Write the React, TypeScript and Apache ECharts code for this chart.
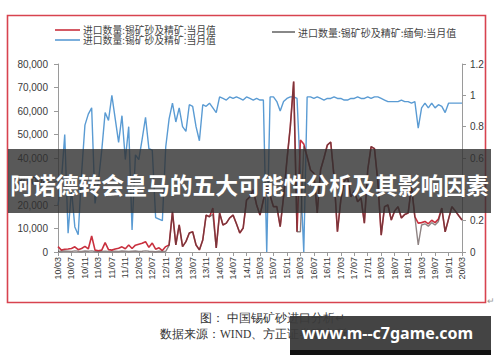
import React, { useEffect, useRef } from 'react';
import * as echarts from 'echarts';

// Monthly categories 10/03 .. 20/03
const months: string[] = [];
for (let y = 10; y <= 20; y++) {
  for (let m = 1; m <= 12; m++) {
    if ((y === 10 && m < 3) || (y === 20 && m > 3)) continue;
    months.push(`${y}/${String(m).padStart(2, '0')}`);
  }
}

const legendTotal = '进口数量:锡矿砂及精矿:当月值';
const legendRatio = '进口数量:锡矿砂及精矿:当月值';
const legendMyanmar = '进口数量:锡矿砂及精矿:缅甸:当月值';

// Red: total imports (left axis)
const totalImports = [
  2300, 800, 1200, 1300, 1500, 2200, 1000, 1500, 2400, 1300,
  6800, 800, 500, 800, 4000, 1000, 800, 1300, 1600, 2200,
  1400, 3000, 1500, 2900, 3300, 3700, 4400, 2000, 3800, 1200,
  1800, 600, 2300, 3000,
  17100, 3000, 11500, 2300, 4400, 8100, 8600, 3000, 900, 5100,
  15700, 15000, 18700, 1700, 16600, 11500, 12300, 14500, 15700,
  12000, 8100, 10200, 22100, 23500, 26400, 20000, 15700, 22100, 28000,
  24000, 19300, 19300, 10800, 23500, 39100, 53300,
  72500, 8600, 47700, 46000, 40600, 34900, 33500, 16600, 35000, 40000,
  45500, 46800, 32000, 8600, 22100, 30000, 32000, 23500, 26000, 21400,
  23000, 12300, 35000, 44800, 44000, 30000, 7200, 19300, 20000, 13600,
  17500, 19300, 14500, 16000, 16600, 27800, 15000,
  12300, 12500, 13000, 12000, 13500, 12500, 14000, 18700, 8600, 14000,
  19300, 17500, 15500, 13600,
];

// Dark: imports from Myanmar (left axis)
const myanmarImports = [
  300, 200, 400, 300, 200, 500, 300, 200, 400, 300,
  500, 200, 100, 200, 300, 200, 100, 300, 200, 400,
  300, 200, 300, 400, 200, 300, 500, 300, 200, 100,
  300, 200, 300, 2800,
  17100, 3000, 11500, 2300, 4400, 8100, 8600, 3000, 900, 5100,
  15700, 15000, 16000, 1700, 16600, 11500, 12300, 14500, 15700,
  12000, 8100, 10200, 22100, 23500, 26400, 20000, 15700, 22100, 28000,
  24000, 19300, 19300, 10800, 23500, 39100, 53300,
  72500, 8600, 8600, 45000, 40600, 34900, 33500, 16600, 35000, 40000,
  45500, 46800, 32000, 8600, 22100, 30000, 32000, 23500, 26000, 21400,
  23000, 12300, 35000, 44800, 44000, 30000, 7200, 19300, 20000, 13600,
  17500, 19300, 14500, 16000, 16600, 27800, 15000,
  3000, 11500, 12000, 11000, 12500, 11500, 13000, 18700, 8600, 14000,
  19300, 17500, 15500, 13600,
];

// Blue: share (right axis)
const shareRatio = [
  0.30, 0.45, 0.75, 0.12, 0.40, 0.16, 0.11, 0.50, 0.81, 0.88,
  0.92, 0.31, 0.45, 0.65, 0.89, 0.84, 1.00, 0.85, 0.70, 0.87,
  0.59, 0.80, 0.14, 0.62, 0.59, 0.72, 0.86, 0.66, 0.65, 0.22,
  0.21, 0.20, 0.67, 0.85, 0.95, 0.83, 0.92, 0.80, 0.77, 0.94,
  0.93, 0.80, 0.71, 0.94, 0.93, 0.95, 0.92, 0.89, 0.99,
  0.98, 0.97, 0.99, 0.98, 0.99, 0.98, 0.97, 0.99, 0.98, 0.97, 0.98, 0.97, 0.97,
  0,
  0.99, 0.99, 0.96, 0.90, 0.96, 0.98, 0.99, 0.99, 0.98, 0.50, 0, 0.99,
  0.99, 0.98, 0.99, 0.98, 0.97, 0.98, 0.98, 0.99, 0.98, 0.98,
  0.97, 0.97, 0.98, 0.98, 0.99, 0.98, 0.98, 0.99, 0.98, 0.99,
  0.99, 0.98, 0.97, 0.96, 0.96, 0.96, 0.96, 0.97, 0.96, 0.96,
  0.95, 0.96,
  0.79, 0.92, 0.95, 0.92, 0.95, 0.92, 0.94, 0.93, 0.89, 0.95,
  0.95, 0.95, 0.95, 0.95,
];

const bannerTitle = '阿诺德转会皇马的五大可能性分析及其影响因素';
const captionTitle = '图： 中国锡矿砂进口分析↵';
const captionSource = '数据来源：WIND、方正证券研究所';
const watermark = 'www.m--c7game.com';

const RED = '#c9303e';
const BLUE = '#5a9bd3';
const DARK = '#4a3838';

export default function App() {
  const ref = useRef<HTMLDivElement>(null);
  useEffect(() => {
    if (!ref.current) return;
    const chart = echarts.init(ref.current, undefined, { renderer: 'svg' });
    const axisFont = { fontSize: 10, color: '#3a3a3a', fontFamily: 'Liberation Sans, Arial, sans-serif' };
    chart.setOption({
      animation: false,
      backgroundColor: '#ffffff',
      grid: { left: 58, right: 38, top: 64, bottom: 110 },
      xAxis: {
        type: 'category',
        data: months,
        boundaryGap: false,
        axisLine: { lineStyle: { color: '#9a9a9a', width: 1 } },
        axisTick: { show: true, interval: 3, length: 4, lineStyle: { color: '#9a9a9a' } },
        axisLabel: { ...axisFont, fontSize: 9, interval: 3, rotate: 90, margin: 5 },
        splitLine: { show: false },
      },
      yAxis: [
        {
          type: 'value',
          min: 0,
          max: 80000,
          interval: 10000,
          axisLine: { show: true, lineStyle: { color: '#9a9a9a' } },
          axisTick: { show: true, length: 4, lineStyle: { color: '#9a9a9a' } },
          axisLabel: {
            ...axisFont,
            margin: 10,
            formatter: (v: number) => v.toLocaleString('en-US'),
          },
          splitLine: { show: false },
        },
        {
          type: 'value',
          min: 0,
          max: 1.2,
          interval: 0.2,
          position: 'right',
          axisLine: { show: true, lineStyle: { color: '#9a9a9a' } },
          axisTick: { show: true, length: 4, lineStyle: { color: '#9a9a9a' } },
          axisLabel: {
            ...axisFont,
            margin: 8,
            formatter: (v: number) => String(Math.round(v * 10) / 10),
          },
          splitLine: { show: false },
        },
      ],
      series: [
        {
          name: legendRatio,
          type: 'line',
          yAxisIndex: 1,
          data: shareRatio,
          symbol: 'none',
          lineStyle: { color: BLUE, width: 1.4 },
          itemStyle: { color: BLUE },
          z: 2,
        },
        {
          name: legendTotal,
          type: 'line',
          data: totalImports,
          symbol: 'none',
          lineStyle: { color: RED, width: 1.6 },
          itemStyle: { color: RED },
          z: 3,
        },
        {
          name: legendMyanmar,
          type: 'line',
          data: myanmarImports,
          symbol: 'none',
          lineStyle: { color: DARK, width: 1.4, opacity: 0.62 },
          itemStyle: { color: DARK },
          z: 4,
        },
      ],
      graphic: [
        // border frame
        {
          type: 'rect',
          z: 50,
          shape: { x: 7.5, y: 15.5, width: 478, height: 287 },
          style: { fill: 'none', stroke: '#d8434f', lineWidth: 1.6 },
        },
        { type: 'text', z: 50, x: 487, y: 296, style: { text: '↵', fill: '#999', font: '9px sans-serif' } },
        // legend
        { type: 'line', z: 50, shape: { x1: 55, y1: 30, x2: 80, y2: 30 }, style: { stroke: RED, lineWidth: 1.6 } },
        {
          type: 'text', z: 50, x: 83, y: 29.5,
          style: { text: legendTotal, fill: '#444', font: '9.8px "Noto Sans CJK SC", sans-serif', textVerticalAlign: 'middle' },
        },
        { type: 'line', z: 50, shape: { x1: 55, y1: 40, x2: 80, y2: 40 }, style: { stroke: BLUE, lineWidth: 1.6 } },
        {
          type: 'text', z: 50, x: 83, y: 40,
          style: { text: legendRatio, fill: '#444', font: '9.8px "Noto Sans CJK SC", sans-serif', textVerticalAlign: 'middle' },
        },
        { type: 'line', z: 50, shape: { x1: 272, y1: 32, x2: 295, y2: 32 }, style: { stroke: '#555', lineWidth: 1.4 } },
        {
          type: 'text', z: 50, x: 298, y: 32,
          style: { text: legendMyanmar, fill: '#444', font: '10px "Noto Sans CJK SC", sans-serif', textVerticalAlign: 'middle' },
        },
        // caption
        {
          type: 'text', z: 50, x: 200, y: 318,
          style: { text: captionTitle, fill: '#333', font: '11.5px serif', textVerticalAlign: 'middle' },
        },
        {
          type: 'text', z: 50, x: 160, y: 334,
          style: { text: captionSource, fill: '#333', font: '11.5px serif', textVerticalAlign: 'middle' },
        },
        // banner
        {
          type: 'rect', z: 100,
          shape: { x: 8, y: 149, width: 483, height: 64 },
          style: { fill: 'rgba(48,48,48,0.8)' },
        },
        {
          type: 'text', z: 101, x: 249.5, y: 184,
          style: {
            text: bannerTitle, fill: '#ffffff',
            font: 'bold 22.8px "Noto Sans CJK SC", sans-serif',
            textAlign: 'center', textVerticalAlign: 'middle',
          },
        },
        // watermark
        {
          type: 'rect', z: 100,
          shape: { x: 290, y: 316, width: 201, height: 39 },
          style: { fill: 'rgba(58,58,58,0.95)' },
        },
        {
          type: 'rect', z: 100,
          shape: { x: 290, y: 350, width: 201, height: 5 },
          style: { fill: '#111' },
        },
        {
          type: 'text', z: 101, x: 387.5, y: 333,
          style: {
            text: watermark, fill: '#ffffff',
            font: 'bold 16px "Noto Sans", "DejaVu Sans", sans-serif',
            textAlign: 'center', textVerticalAlign: 'middle',
          },
        },
      ],
    });
    return () => chart.dispose();
  }, []);
  return (
    <div
      ref={ref}
      style={{ position: 'absolute', left: 0, top: 0, width: 500, height: 362 }}
    />
  );
}
